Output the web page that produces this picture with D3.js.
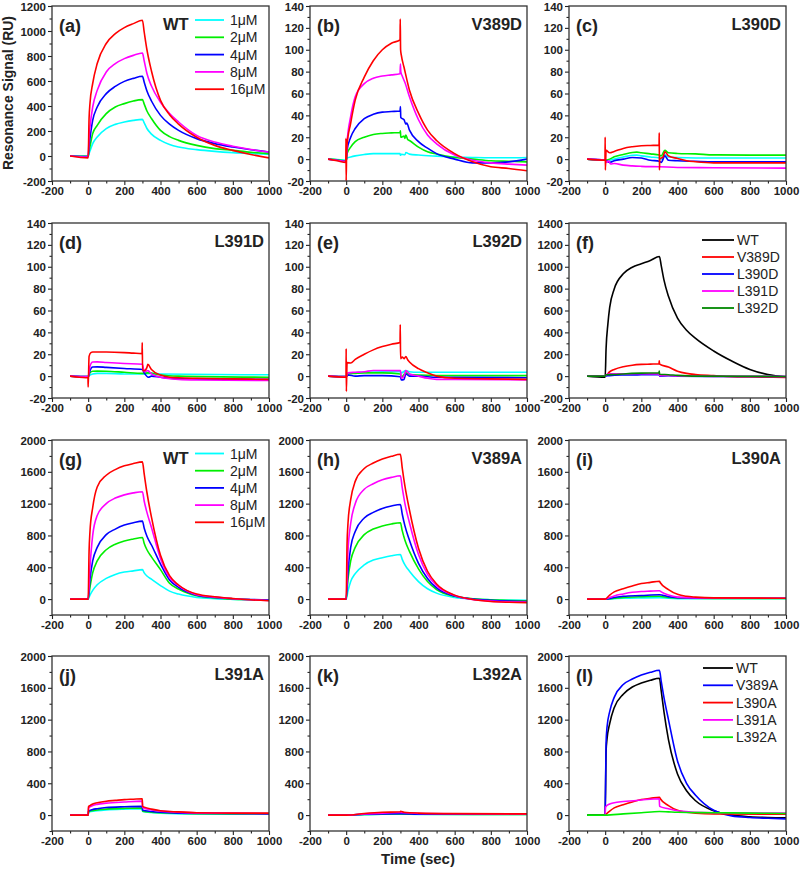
<!DOCTYPE html>
<html><head><meta charset="utf-8">
<script src="https://cdn.jsdelivr.net/npm/d3@7"></script>
<style>body{margin:0;background:#fff}text{font-family:"Liberation Sans",Arial,Helvetica,sans-serif}</style>
</head><body><svg id="c" width="800" height="869"></svg>
<script>
// ---------- tick labels / axes ----------
const xMajor = [-200, 0, 200, 400, 600, 800, 1000];
const yTicksA = [-200, 0, 200, 400, 600, 800, 1000, 1200];
const yTicksD = [-20, 0, 20, 40, 60, 80, 100, 120, 140];
const yTicksF = [-200, 0, 200, 400, 600, 800, 1000, 1200, 1400];
const yTicksAla = [0, 400, 800, 1200, 1600, 2000];
const concLabels = ["1\u03BCM", "2\u03BCM", "4\u03BCM", "8\u03BCM", "16\u03BCM"];
const concColors = ["#00ffff", "#00ee00", "#0000ff", "#ff00ff", "#ff0000"];
const dMutants = ["WT", "V389D", "L390D", "L391D", "L392D"];
const dColors = ["#000000", "#ff0000", "#0000ff", "#ff00ff", "#008800"];
const aMutants = ["WT", "V389A", "L390A", "L391A", "L392A"];
const aColors = ["#000000", "#0000ff", "#ff0000", "#ff00ff", "#00ee00"];

// ---------- (a) WT, concentration series [time, RU] ----------
const a_1 = [[-100,0],[0,-3],[5,20],[10,40],[25,99],[50,152],[100,219],[150,253],[200,272],[250,285],[300,293],[310,265],[325,220],[350,175],[400,125],[450,92],[500,72],[600,51],[700,37],[800,27],[900,20],[1000,14]];
const a_2 = [[-100,0],[0,-3],[5,40],[10,75],[25,179],[50,245],[100,339],[150,392],[200,419],[250,440],[300,451],[310,415],[325,360],[350,300],[400,205],[450,155],[500,125],[600,85],[700,59],[800,45],[900,30],[1000,19]];
const a_4 = [[-100,0],[0,-5],[5,80],[10,140],[25,285],[50,392],[100,499],[150,557],[200,597],[250,621],[300,638],[310,590],[325,520],[350,440],[400,325],[450,255],[500,205],[600,139],[700,99],[800,72],[900,50],[1000,32]];
const a_8 = [[-100,0],[0,-8],[5,150],[10,230],[25,392],[50,525],[100,672],[150,739],[200,779],[250,805],[300,824],[310,760],[325,660],[350,560],[400,430],[450,340],[500,272],[600,165],[700,112],[800,78],[900,52],[1000,32]];
const a_16 = [[-100,0],[0,-15],[5,300],[10,420],[25,580],[50,740],[100,900],[150,979],[200,1027],[250,1059],[300,1086],[310,990],[325,850],[350,680],[400,445],[450,330],[500,255],[600,150],[700,85],[800,45],[900,12],[1000,-15]];

// ---------- (b) V389D ----------
const b_1 = [[-100,0],[-50,-0.5],[0,-1],[5,1],[25,2],[50,3],[100,4.3],[150,5],[200,5],[250,5],[298,5],[300,3.5],[305,4.5],[325,4],[330,6],[350,4.6],[400,3.7],[500,2.7],[600,2],[700,1.5],[800,1.2],[900,1.2],[1000,1.5]];
const b_2 = [[-100,0],[-50,-0.5],[0,-1.5],[5,5],[25,11],[50,16],[100,20],[150,22.5],[200,23.5],[250,24],[298,24.4],[300,26],[302,20],[320,21],[325,19],[330,22],[340,18],[350,17],[400,11],[450,6.7],[500,4.6],[600,1.5],[700,0],[800,-1.5],[900,-2],[1000,-2.5]];
const b_4 = [[-100,0],[-50,-1],[0,-2],[5,8],[25,20],[50,28],[100,37],[150,41],[200,43],[250,43.5],[298,44],[300,48],[302,38],[320,36],[330,32],[335,33],[350,26.5],[400,16],[450,10],[500,5],[600,0],[700,-3.4],[800,-3.4],[900,-2.5],[1000,0]];
const b_8 = [[-100,0],[-50,-1],[0,-2],[5,15],[25,39],[50,57],[100,69],[150,74],[200,76],[250,77],[298,78],[300,87],[302,80],[310,76],[325,70],[350,57],[400,36],[450,22],[500,14],[600,3.7],[700,-1],[800,-3.4],[900,-4.6],[1000,-5.5]];
const b_16 = [[-100,0],[-50,-1.5],[-2,-3],[-1,19],[0,-20],[3,10],[25,33],[50,54],[100,75],[150,90],[200,100],[250,106],[298,109],[299,128],[301,100],[305,95],[320,84],[350,63],[400,42],[450,26.5],[500,17],[600,5],[700,-2.5],[800,-7],[900,-8.5],[1000,-10.7]];

// ---------- (c) L390D ----------
const c_1 = [[-100,0],[0,-1],[25,-1],[50,0],[100,2],[150,3.5],[175,3.7],[200,3],[250,2],[300,1],[310,0],[330,4],[350,2],[400,1.5],[600,1],[1000,1]];
const c_2 = [[-100,0],[0,-1],[25,0],[50,2.1],[100,4.3],[150,6.1],[175,6.4],[200,5.8],[250,4.8],[300,3.7],[310,3],[330,8],[350,5.8],[400,5.2],[500,4.8],[600,3.9],[800,3.7],[1000,3.7]];
const c_4 = [[-100,0],[0,-1],[25,-3],[50,-1.5],[100,0],[150,1.5],[200,1],[250,-1],[300,-2],[310,-3],[330,3],[350,-1],[400,-1.5],[500,-2],[600,-2.4],[1000,-2.5]];
const c_8 = [[-100,0],[0,-1],[10,-3],[20,-1.5],[30,-4.5],[50,-4],[100,-5.5],[150,-6.2],[200,-6.6],[300,-7],[400,-7.6],[600,-7.9],[1000,-8.2]];
const c_16 = [[-100,0],[-1,-1],[0,20],[1,-10],[5,8],[25,5.8],[50,7],[100,9.8],[150,11.3],[200,12.2],[250,12.5],[298,12.8],[299,24],[300,-10],[302,0],[320,2],[330,6.7],[350,3],[400,0.6],[450,-1.5],[500,-2.4],[600,-3.4],[1000,-3.4]];

// ---------- (d) L391D ----------
const d_1 = [[-100,0],[0,-0.5],[10,1],[25,2],[50,2.5],[100,2.5],[200,2],[300,2],[350,2.5],[400,2],[1000,1.2]];
const d_2 = [[-100,0],[0,-0.5],[10,3],[25,4.5],[50,4.6],[100,4.5],[200,3.5],[300,2.5],[330,3],[400,1],[500,0],[1000,-1]];
const d_4 = [[-100,0],[0,-0.5],[10,5],[25,8.3],[50,8.5],[100,8],[200,7],[300,6],[310,3],[333,-1],[350,0],[400,-1],[500,-2.5],[1000,-3]];
const d_8 = [[-100,0],[0,-0.5],[10,9],[25,12.9],[50,13],[100,12.5],[200,11.5],[300,10.8],[310,4],[330,5],[350,2],[400,-1],[500,-3],[600,-3.5],[1000,-4]];
const d_16 = [[-100,0],[-50,-1],[-1,-1.5],[0,-10],[5,18],[15,21.5],[25,22],[50,22],[100,22],[200,21.5],[250,21],[298,20.6],[299,30.7],[301,5],[310,5],[325,8],[330,10.7],[350,6],[400,1],[450,-1],[500,-1.5],[600,-2],[800,-2.5],[1000,-3]];

// ---------- (e) L392D ----------
const e_1 = [[-100,0],[0,-0.5],[10,2],[50,3],[100,3.5],[200,4],[300,4],[305,3],[330,5],[350,4],[400,3.5],[600,3.5],[1000,3.5]];
const e_2 = [[-100,0],[0,-0.5],[10,2],[50,2.5],[100,3],[200,3],[300,2],[305,-1],[330,3],[350,1.5],[400,1],[600,0.5],[1000,0.5]];
const e_4 = [[-100,0],[0,-0.5],[10,1],[50,0],[100,0.5],[200,0.5],[300,-0.5],[305,-3.5],[320,-3],[330,2],[350,0],[400,0],[500,-1],[1000,-1.5]];
const e_8 = [[-100,0],[0,-0.5],[10,3],[50,3.5],[100,4],[150,5.2],[200,5.2],[300,5],[305,-2],[320,0],[330,5],[350,2],[400,0],[450,-2],[500,-3],[600,-3],[1000,-3.5]];
const e_16 = [[-100,0],[-1,-1],[0,25],[1,-14],[5,12.3],[25,12],[50,15.3],[100,20],[150,24],[200,27],[250,29.2],[298,30.7],[299,47],[301,16],[310,17.5],[320,16],[330,18],[340,15],[350,13],[400,6.8],[450,3],[500,0],[600,-2],[800,-2.5],[1000,-3]];

// ---------- (f) 16 uM comparison, D mutants ----------
const f_WT = [[-100,0],[0,-10],[5,250],[15,475],[25,628],[50,797],[100,935],[150,996],[200,1027],[250,1057],[300,1094],[310,1010],[325,880],[350,730],[400,530],[450,420],[500,345],[600,230],[700,138],[800,61],[900,15],[1000,-6]];
const f_V389D = [[-100,0],[0,0],[25,40],[50,61],[100,86],[150,100],[200,107],[250,110],[298,113],[299,140],[301,110],[350,83],[400,45],[450,25],[500,15],[600,5],[700,-5],[800,-8],[1000,-12]];
const f_L390D = [[-100,0],[0,0],[25,5],[100,10],[200,12],[298,13],[299,25],[301,0],[350,3],[400,0],[600,-3],[1000,-3]];
const f_L391D = [[-100,0],[0,0],[10,18],[25,22],[200,21.5],[298,21],[299,31],[301,5],[350,6],[400,1],[600,-2],[1000,-3]];
const f_L392D = [[-100,0],[0,0],[5,12],[50,15],[100,20],[200,27],[298,31],[299,47],[301,17],[350,13],[400,7],[500,0],[1000,-3]];

// ---------- (g) WT, A set ----------
const g_1 = [[-100,0],[0,0],[10,50],[25,110],[50,180],[100,260],[150,310],[200,340],[250,355],[300,370],[310,330],[325,290],[350,250],[400,170],[450,100],[500,63],[600,21],[700,5],[800,-3],[900,-8],[1000,-12]];
const g_2 = [[-100,0],[0,0],[10,150],[25,330],[50,480],[100,620],[150,690],[200,730],[250,755],[300,775],[310,700],[325,620],[350,530],[400,370],[450,200],[500,126],[600,42],[700,15],[800,0],[900,-8],[1000,-15]];
const g_4 = [[-100,0],[0,0],[10,250],[25,480],[50,650],[100,810],[150,880],[200,930],[250,960],[300,980],[310,890],[325,790],[350,680],[400,440],[450,240],[500,147],[600,50],[700,20],[800,5],[900,-5],[1000,-12]];
const g_8 = [[-100,0],[0,0],[10,400],[25,800],[50,1050],[100,1200],[150,1270],[200,1310],[250,1335],[300,1350],[310,1230],[325,1090],[350,900],[400,510],[450,270],[500,168],[600,55],[700,25],[800,5],[900,-8],[1000,-18]];
const g_16 = [[-100,0],[0,0],[5,600],[10,850],[25,1150],[50,1410],[100,1557],[150,1628],[200,1675],[250,1704],[300,1725],[310,1570],[325,1340],[350,1030],[400,550],[450,294],[500,177],[600,63],[700,30],[800,8],[900,-9],[1000,-21]];

// ---------- (h) V389A ----------
const h_1 = [[-100,0],[0,0],[10,100],[25,220],[50,320],[100,430],[150,490],[200,520],[250,545],[300,560],[310,500],[325,430],[350,350],[400,220],[450,130],[500,75],[600,20],[700,0],[800,-8],[900,-12],[1000,-15]];
const h_2 = [[-100,0],[0,0],[10,250],[25,480],[50,650],[100,810],[150,880],[200,920],[250,945],[300,960],[310,860],[325,740],[350,600],[400,380],[450,220],[500,120],[600,35],[700,5],[800,-10],[900,-18],[1000,-22]];
const h_4 = [[-100,0],[0,0],[10,350],[25,650],[50,850],[100,1020],[150,1090],[200,1140],[250,1170],[300,1190],[310,1070],[325,920],[350,740],[400,450],[450,260],[500,140],[600,38],[700,0],[800,-15],[900,-25],[1000,-30]];
const h_8 = [[-100,0],[0,0],[10,600],[25,950],[50,1200],[100,1380],[150,1450],[200,1500],[250,1530],[300,1550],[310,1400],[325,1200],[350,960],[400,560],[450,310],[500,170],[600,45],[700,-5],[800,-25],[900,-35],[1000,-38]];
const h_16 = [[-100,0],[0,0],[5,700],[10,950],[25,1250],[50,1480],[100,1641],[150,1710],[200,1760],[250,1795],[300,1820],[310,1650],[325,1420],[350,1120],[400,640],[450,350],[500,190],[600,50],[700,-5],[800,-30],[900,-40],[1000,-45]];

// ---------- (i) L390A ----------
const i_1 = [[-100,0],[0,0],[50,5],[100,10],[200,15],[300,18],[350,10],[400,6],[600,4],[1000,4]];
const i_2 = [[-100,0],[0,0],[50,10],[100,20],[200,30],[300,35],[350,20],[400,14],[600,9],[1000,8]];
const i_4 = [[-100,0],[0,0],[50,20],[100,35],[200,45],[300,55],[350,30],[400,18],[500,12],[1000,10]];
const i_8 = [[-100,0],[0,0],[25,20],[50,40],[100,65],[150,85],[200,95],[250,100],[300,105],[310,90],[350,50],[400,25],[500,15],[1000,10]];
const i_16 = [[-100,0],[0,0],[25,50],[50,90],[100,130],[150,165],[200,195],[250,210],[300,225],[305,205],[350,120],[400,60],[450,35],[500,25],[600,15],[1000,10]];

// ---------- (j) L391A ----------
const j_1 = [[-100,0],[0,0],[2,40],[50,55],[100,65],[200,75],[299,80],[301,45],[400,25],[600,15],[1000,10]];
const j_2 = [[-100,0],[0,0],[2,45],[50,65],[100,75],[200,85],[299,90],[301,50],[400,30],[600,18],[1000,12]];
const j_4 = [[-100,0],[0,0],[2,50],[25,70],[50,80],[100,95],[200,105],[299,110],[301,60],[350,45],[400,35],[500,25],[1000,15]];
const j_8 = [[-100,0],[0,0],[2,90],[25,120],[50,135],[100,150],[200,165],[299,175],[301,95],[350,65],[400,50],[600,28],[1000,20]];
const j_16 = [[-100,0],[0,0],[2,105],[10,120],[25,140],[50,155],[100,175],[150,185],[200,195],[250,200],[299,205],[301,110],[310,100],[350,75],[400,55],[500,40],[600,30],[800,25],[1000,25]];

// ---------- (k) L392A ----------
const k_1 = [[-100,0],[0,0],[100,5],[200,10],[300,12],[400,8],[1000,8]];
const k_2 = [[-100,0],[0,0],[100,8],[200,12],[300,15],[400,10],[1000,9]];
const k_4 = [[-100,0],[0,0],[100,10],[200,15],[300,18],[400,12],[1000,10]];
const k_8 = [[-100,0],[0,0],[100,15],[200,25],[300,32],[400,20],[1000,12]];
const k_16 = [[-100,0],[0,0],[100,20],[200,35],[299,42],[301,48],[320,35],[400,25],[600,18],[1000,15]];

// ---------- (l) 16 uM comparison, A mutants ----------
const l_WT = [[-100,0],[0,0],[5,800],[10,950],[25,1150],[50,1350],[100,1520],[150,1610],[200,1660],[250,1695],[300,1720],[310,1560],[325,1300],[350,950],[400,517],[450,306],[500,180],[600,54],[700,0],[800,-20],[900,-30],[1000,-35]];
const l_V389A = [[0,0],[5,900],[10,1100],[25,1300],[50,1480],[100,1641],[150,1710],[200,1760],[250,1795],[300,1820],[310,1680],[325,1480],[350,1200],[400,680],[450,400],[500,250],[600,60],[700,-10],[800,-30],[900,-40],[1000,-48]];
const l_L390A = [[0,0],[25,50],[50,90],[100,130],[150,165],[200,195],[250,210],[300,225],[305,205],[350,120],[400,60],[450,35],[500,25],[600,15],[1000,10]];
const l_L391A = [[0,0],[2,100],[25,140],[50,155],[100,170],[200,190],[299,205],[301,110],[350,80],[400,55],[600,30],[1000,25]];
const l_L392A = [[-100,0],[0,0],[100,15],[200,30],[300,45],[350,40],[400,35],[600,30],[800,25],[1000,20]];

// ---------- panel table ----------
const panels = [
  {tag:"(a)", title:"WT", yd:[-200,1200], ticks:yTicksA, minor:100, series:[a_1,a_2,a_4,a_8,a_16], colors:concColors, legend:concLabels, titleX:111, lg:{x1:143,x2:172,tx:178,y0:14,dy:17.3}},
  {tag:"(b)", title:"V389D", yd:[-20,140], ticks:yTicksD, minor:10, series:[b_1,b_2,b_4,b_8,b_16], colors:concColors},
  {tag:"(c)", title:"L390D", yd:[-20,140], ticks:yTicksD, minor:10, series:[c_1,c_2,c_4,c_8,c_16], colors:concColors},
  {tag:"(d)", title:"L391D", yd:[-20,140], ticks:yTicksD, minor:10, series:[d_1,d_2,d_4,d_8,d_16], colors:concColors},
  {tag:"(e)", title:"L392D", yd:[-20,140], ticks:yTicksD, minor:10, series:[e_1,e_2,e_4,e_8,e_16], colors:concColors},
  {tag:"(f)", title:"", yd:[-200,1400], ticks:yTicksF, minor:100, series:[f_WT,f_V389D,f_L390D,f_L391D,f_L392D], colors:dColors, legend:dMutants, lg:{x1:133,x2:165,tx:168,y0:17,dy:17}},
  {tag:"(g)", title:"WT", yd:[-200,2000], ticks:yTicksAla, minor:200, series:[g_1,g_2,g_4,g_8,g_16], colors:concColors, legend:concLabels, titleX:111, lg:{x1:143,x2:172,tx:178,y0:13.5,dy:17.2}},
  {tag:"(h)", title:"V389A", yd:[-200,2000], ticks:yTicksAla, minor:200, series:[h_1,h_2,h_4,h_8,h_16], colors:concColors},
  {tag:"(i)", title:"L390A", yd:[-200,2000], ticks:yTicksAla, minor:200, series:[i_1,i_2,i_4,i_8,i_16], colors:concColors},
  {tag:"(j)", title:"L391A", yd:[-200,2000], ticks:yTicksAla, minor:200, series:[j_1,j_2,j_4,j_8,j_16], colors:concColors},
  {tag:"(k)", title:"L392A", yd:[-200,2000], ticks:yTicksAla, minor:200, series:[k_1,k_2,k_4,k_8,k_16], colors:concColors},
  {tag:"(l)", title:"", yd:[-200,2000], ticks:yTicksAla, minor:200, series:[l_WT,l_V389A,l_L390A,l_L391A,l_L392A], colors:aColors, legend:aMutants, lg:{x1:134,x2:164,tx:167,y0:12,dy:17.3}}
];

const svg = d3.select("#c");
const colLeft = [52, 310, 569], rowTop = [6, 223, 440, 656], W = 217, H = 175;
const ink = "#222";
const fmt = d => String(d);

panels.forEach((p, idx) => {
  const x0 = colLeft[idx % 3], y0 = rowTop[Math.floor(idx / 3)];
  const g = svg.append("g").attr("transform", `translate(${x0},${y0})`);
  const x = d3.scaleLinear().domain([-200, 1000]).range([0, W]);
  const y = d3.scaleLinear().domain(p.yd).range([H, 0]);

  const cid = "clip" + idx;
  g.append("clipPath").attr("id", cid).append("rect").attr("x", 0).attr("y", 0).attr("width", W).attr("height", H);

  const line = d3.line().x(d => x(d[0])).y(d => y(d[1])).curve(d3.curveMonotoneX);
  const lg = g.append("g").attr("clip-path", `url(#${cid})`);
  p.series.forEach((s, k) => {
    lg.append("path").attr("d", line(s)).attr("fill", "none")
      .attr("stroke", p.colors[k]).attr("stroke-width", 1.6).attr("stroke-linejoin", "round");
  });

  // minor ticks
  const xMinor = d3.range(-100, 1000, 200);
  const xMin = g.append("g").attr("transform", `translate(0,${H})`)
    .call(d3.axisBottom(x).tickValues(xMinor).tickSize(2.5).tickFormat(""));
  xMin.select(".domain").remove();
  const yMinorVals = d3.range(p.yd[0], p.yd[1] + 0.001, p.minor).filter(v => !p.ticks.includes(v));
  const yMin = g.append("g").call(d3.axisLeft(y).tickValues(yMinorVals).tickSize(2.5).tickFormat(""));
  yMin.select(".domain").remove();

  // major axes
  const xa = g.append("g").attr("transform", `translate(0,${H})`)
    .call(d3.axisBottom(x).tickValues(xMajor).tickSize(4).tickPadding(2).tickFormat(fmt));
  xa.select(".domain").remove();
  xa.selectAll("text").attr("font-size", 11.5).attr("font-weight", "bold").attr("fill", ink);
  const ya = g.append("g")
    .call(d3.axisLeft(y).tickValues(p.ticks).tickSize(4).tickPadding(2).tickFormat(fmt));
  ya.select(".domain").remove();
  ya.selectAll("text").attr("font-size", 11.5).attr("font-weight", "bold").attr("fill", ink).attr("dy", "0.35em");
  g.selectAll(".tick line").attr("stroke", ink).attr("stroke-width", 1.1);

  g.append("rect").attr("x", 0).attr("y", 0).attr("width", W).attr("height", H)
    .attr("fill", "none").attr("stroke", "#333").attr("stroke-width", 1.3);

  g.append("text").attr("x", 7).attr("y", 26).attr("font-size", 18).attr("font-weight", "bold")
    .attr("fill", ink).text(p.tag);
  if (p.title) {
    const t = g.append("text").attr("y", 24).attr("font-size", 16.5).attr("font-weight", "bold").attr("fill", ink).text(p.title);
    if (p.titleX !== undefined) t.attr("x", p.titleX);
    else t.attr("x", W - 5).attr("text-anchor", "end");
  }
  if (p.legend) {
    p.legend.forEach((lab, k) => {
      const yy = p.lg.y0 + k * p.lg.dy;
      g.append("line").attr("x1", p.lg.x1).attr("x2", p.lg.x2).attr("y1", yy).attr("y2", yy)
        .attr("stroke", p.colors[k]).attr("stroke-width", 1.8);
      g.append("text").attr("x", p.lg.tx).attr("y", yy + 5).attr("font-size", 14)
        .attr("fill", ink).text(lab);
    });
  }
});

svg.append("text").attr("transform", "translate(13,93) rotate(-90)").attr("text-anchor", "middle")
  .attr("font-size", 14).attr("font-weight", "bold").attr("fill", ink).text("Resonance Signal (RU)");
svg.append("text").attr("x", 418).attr("y", 864).attr("text-anchor", "middle")
  .attr("font-size", 15).attr("font-weight", "bold").attr("fill", ink).text("Time (sec)");
</script>
</body></html>
